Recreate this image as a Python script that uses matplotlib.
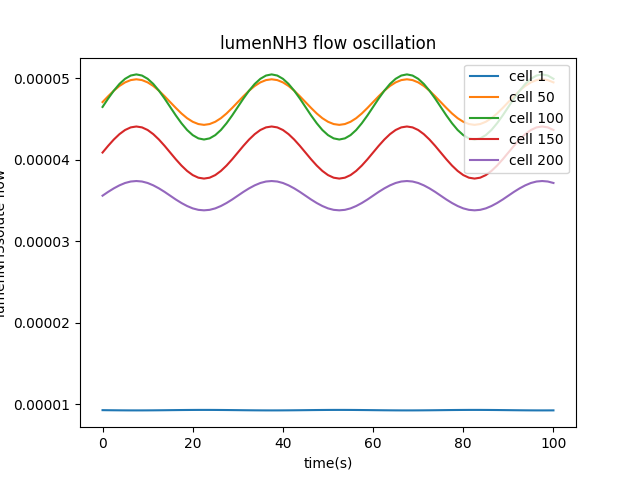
import matplotlib
matplotlib.use("Agg")
import matplotlib.pyplot as plt
from matplotlib.ticker import FormatStrFormatter

# time axis (s), read every 1.25 s
time = [0.0, 1.25, 2.5, 3.75, 5.0, 6.25, 7.5, 8.75, 10.0, 11.25,
        12.5, 13.75, 15.0, 16.25, 17.5, 18.75, 20.0, 21.25, 22.5, 23.75,
        25.0, 26.25, 27.5, 28.75, 30.0, 31.25, 32.5, 33.75, 35.0, 36.25,
        37.5, 38.75, 40.0, 41.25, 42.5, 43.75, 45.0, 46.25, 47.5, 48.75,
        50.0, 51.25, 52.5, 53.75, 55.0, 56.25, 57.5, 58.75, 60.0, 61.25,
        62.5, 63.75, 65.0, 66.25, 67.5, 68.75, 70.0, 71.25, 72.5, 73.75,
        75.0, 76.25, 77.5, 78.75, 80.0, 81.25, 82.5, 83.75, 85.0, 86.25,
        87.5, 88.75, 90.0, 91.25, 92.5, 93.75, 95.0, 96.25, 97.5, 98.75, 100.0]

# flow values, units of 1e-5
cell_1 = [0.925, 0.9242, 0.9235, 0.9229, 0.9224, 0.9221, 0.922, 0.9221, 0.9224, 0.9229,
          0.9235, 0.9242, 0.925, 0.9258, 0.9265, 0.9271, 0.9276, 0.9279, 0.928, 0.9279,
          0.9276, 0.9271, 0.9265, 0.9258,
          0.925, 0.9242, 0.9235, 0.9229, 0.9224, 0.9221, 0.922, 0.9221, 0.9224, 0.9229,
          0.9235, 0.9242, 0.925, 0.9258, 0.9265, 0.9271, 0.9276, 0.9279, 0.928, 0.9279,
          0.9276, 0.9271, 0.9265, 0.9258,
          0.925, 0.9242, 0.9235, 0.9229, 0.9224, 0.9221, 0.922, 0.9221, 0.9224, 0.9229,
          0.9235, 0.9242, 0.925, 0.9258, 0.9265, 0.9271, 0.9276, 0.9279, 0.928, 0.9279,
          0.9276, 0.9271, 0.9265, 0.9258,
          0.925, 0.9242, 0.9235, 0.9229, 0.9224, 0.9221, 0.922, 0.9221, 0.9224]
cell_50 = [4.710, 4.782, 4.850, 4.908, 4.952, 4.980, 4.990, 4.980, 4.952, 4.908,
           4.850, 4.782, 4.710, 4.638, 4.570, 4.512, 4.468, 4.440, 4.430, 4.440,
           4.468, 4.512, 4.570, 4.638,
           4.710, 4.782, 4.850, 4.908, 4.952, 4.980, 4.990, 4.980, 4.952, 4.908,
           4.850, 4.782, 4.710, 4.638, 4.570, 4.512, 4.468, 4.440, 4.430, 4.440,
           4.468, 4.512, 4.570, 4.638,
           4.710, 4.782, 4.850, 4.908, 4.952, 4.980, 4.990, 4.980, 4.952, 4.908,
           4.850, 4.782, 4.710, 4.638, 4.570, 4.512, 4.468, 4.440, 4.430, 4.440,
           4.468, 4.512, 4.570, 4.638,
           4.710, 4.782, 4.850, 4.908, 4.952, 4.980, 4.990, 4.980, 4.952]
cell_100 = [4.650, 4.754, 4.850, 4.933, 4.996, 5.036, 5.050, 5.036, 4.996, 4.933,
            4.850, 4.754, 4.650, 4.546, 4.450, 4.367, 4.304, 4.264, 4.250, 4.264,
            4.304, 4.367, 4.450, 4.546,
            4.650, 4.754, 4.850, 4.933, 4.996, 5.036, 5.050, 5.036, 4.996, 4.933,
            4.850, 4.754, 4.650, 4.546, 4.450, 4.367, 4.304, 4.264, 4.250, 4.264,
            4.304, 4.367, 4.450, 4.546,
            4.650, 4.754, 4.850, 4.933, 4.996, 5.036, 5.050, 5.036, 4.996, 4.933,
            4.850, 4.754, 4.650, 4.546, 4.450, 4.367, 4.304, 4.264, 4.250, 4.264,
            4.304, 4.367, 4.450, 4.546,
            4.650, 4.754, 4.850, 4.933, 4.996, 5.036, 5.050, 5.036, 4.996]
cell_150 = [4.090, 4.173, 4.250, 4.316, 4.367, 4.399, 4.410, 4.399, 4.367, 4.316,
            4.250, 4.173, 4.090, 4.007, 3.930, 3.864, 3.813, 3.781, 3.770, 3.781,
            3.813, 3.864, 3.930, 4.007,
            4.090, 4.173, 4.250, 4.316, 4.367, 4.399, 4.410, 4.399, 4.367, 4.316,
            4.250, 4.173, 4.090, 4.007, 3.930, 3.864, 3.813, 3.781, 3.770, 3.781,
            3.813, 3.864, 3.930, 4.007,
            4.090, 4.173, 4.250, 4.316, 4.367, 4.399, 4.410, 4.399, 4.367, 4.316,
            4.250, 4.173, 4.090, 4.007, 3.930, 3.864, 3.813, 3.781, 3.770, 3.781,
            3.813, 3.864, 3.930, 4.007,
            4.090, 4.173, 4.250, 4.316, 4.367, 4.399, 4.410, 4.399, 4.367]
cell_200 = [3.560, 3.607, 3.650, 3.687, 3.716, 3.734, 3.740, 3.734, 3.716, 3.687,
            3.650, 3.607, 3.560, 3.513, 3.470, 3.433, 3.404, 3.386, 3.380, 3.386,
            3.404, 3.433, 3.470, 3.513,
            3.560, 3.607, 3.650, 3.687, 3.716, 3.734, 3.740, 3.734, 3.716, 3.687,
            3.650, 3.607, 3.560, 3.513, 3.470, 3.433, 3.404, 3.386, 3.380, 3.386,
            3.404, 3.433, 3.470, 3.513,
            3.560, 3.607, 3.650, 3.687, 3.716, 3.734, 3.740, 3.734, 3.716, 3.687,
            3.650, 3.607, 3.560, 3.513, 3.470, 3.433, 3.404, 3.386, 3.380, 3.386,
            3.404, 3.433, 3.470, 3.513,
            3.560, 3.607, 3.650, 3.687, 3.716, 3.734, 3.740, 3.734, 3.716]

series = [("cell 1", cell_1), ("cell 50", cell_50), ("cell 100", cell_100),
          ("cell 150", cell_150), ("cell 200", cell_200)]

fig, ax = plt.subplots(figsize=(6.4, 4.8), dpi=100)

for label, vals in series:
    ax.plot(time, [v * 1e-5 for v in vals], label=label)

ax.yaxis.set_major_formatter(FormatStrFormatter("%.5f"))
ax.set_xlabel("time(s)")
ax.set_ylabel("lumenNH3solute flow")
ax.set_title("lumenNH3 flow oscillation")
ax.legend(loc="upper right")

fig.savefig("out.png")
